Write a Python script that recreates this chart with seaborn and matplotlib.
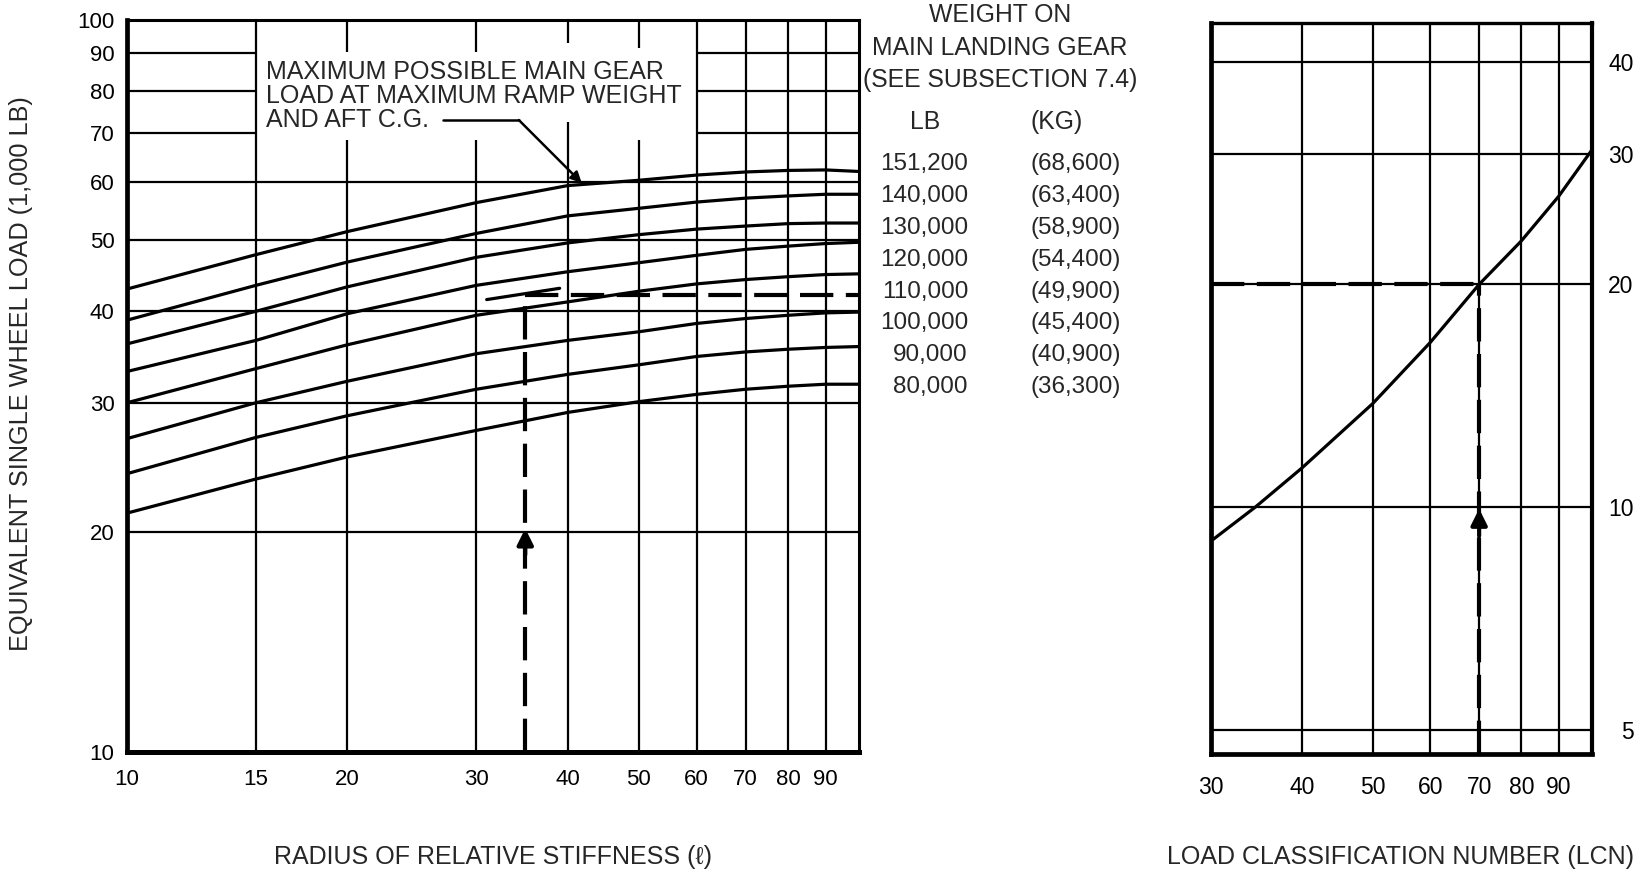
import pandas as pd
import matplotlib
matplotlib.use('Agg')
import matplotlib.pyplot as plt
from matplotlib.ticker import FixedLocator, NullFormatter, NullLocator
import seaborn as sns

# ---- data ----
# left chart: ESWL (1,000 lb) against radius of relative stiffness, one curve per gear weight
radius = [10, 15, 20, 30, 40, 50, 60, 70, 80, 90, 100]
weight_lb = ['151,200', '140,000', '130,000', '120,000', '110,000', '100,000', '90,000', '80,000']
weight_kg = ['(68,600)', '(63,400)', '(58,900)', '(54,400)', '(49,900)', '(45,400)', '(40,900)', '(36,300)']
eswl_151200 = [42.9, 47.8, 51.4, 56.3, 59.4, 60.4, 61.4, 62.0, 62.3, 62.4, 62.1]
eswl_140000 = [38.9, 43.4, 46.7, 51.1, 54.0, 55.3, 56.4, 57.1, 57.5, 57.8, 57.8]
eswl_130000 = [36.1, 40.0, 43.2, 47.4, 49.6, 50.9, 51.8, 52.3, 52.7, 52.8, 52.8]
eswl_120000 = [33.1, 36.5, 39.7, 43.4, 45.3, 46.6, 47.7, 48.6, 49.1, 49.5, 49.7]
eswl_110000 = [30.0, 33.4, 36.0, 39.5, 41.2, 42.6, 43.6, 44.2, 44.6, 44.9, 45.0]
eswl_100000 = [26.8, 30.0, 32.1, 35.0, 36.5, 37.5, 38.5, 39.1, 39.5, 39.8, 39.9]
eswl_90000 = [24.0, 26.9, 28.8, 31.3, 32.8, 33.8, 34.7, 35.2, 35.5, 35.7, 35.8]
eswl_80000 = [21.2, 23.6, 25.3, 27.5, 29.1, 30.1, 30.8, 31.3, 31.6, 31.8, 31.8]
curves = [eswl_151200, eswl_140000, eswl_130000, eswl_120000,
          eswl_110000, eswl_100000, eswl_90000, eswl_80000]

# right chart: LCN curve
lcn = [30, 34.5, 40, 50, 60, 70, 80, 90, 100]
lcn_eswl = [9.0, 10.0, 11.3, 13.8, 16.7, 20.0, 22.9, 26.3, 30.4]

# worked example (dashed reading lines)
ex_radius = 35
ex_eswl = 42.1
stub_radius = [31, 39]
stub_eswl = [41.5, 43.0]
ex_lcn = 70
ex_eswl_right = 20
# "maximum possible" leader line
leader_x = [27.0, 34.3, 41.8]
leader_y = [73.0, 73.0, 59.9]

# axis ticks / grid
x_ticks_l = [10, 15, 20, 30, 40, 50, 60, 70, 80, 90]
y_ticks_l = [10, 20, 30, 40, 50, 60, 70, 80, 90, 100]
x_ticks_r = [30, 40, 50, 60, 70, 80, 90]
y_ticks_r = [5, 10, 20, 30, 40]
# vertical grid lines broken behind the note: x -> (gap bottom, gap top)
note_gaps = {20: (68.5, 90.5), 30: (68.5, 90.5), 40: (72.5, 93), 50: (68.5, 91.5)}

sns.set_theme(style='white')
plt.rcParams['font.family'] = ['Liberation Sans', 'DejaVu Sans']

W, H = 1644, 875
fig = plt.figure(figsize=(W / 100, H / 100), dpi=100)
ax1 = fig.add_axes([127 / W, 1 - 752 / H, 732 / W, 732 / H])
ax2 = fig.add_axes([1211 / W, 1 - 754 / H, 381 / W, 731 / H])

K = 'black'
GLW = 1.6

# ---------------- left chart ----------------
df_left = pd.concat([pd.DataFrame({'radius': radius, 'eswl': c, 'weight': w})
                     for c, w in zip(curves, weight_lb)])
ax1.set_xscale('log')
ax1.set_yscale('log')
ax1.set_xlim(10, 100)
ax1.set_ylim(10, 100)

for x in [15, 60, 70, 80, 90]:
    ax1.axvline(x, color=K, lw=GLW, zorder=1)
for x, (g0, g1) in note_gaps.items():
    ax1.vlines(x, 10, g0, color=K, lw=GLW, zorder=1)
    ax1.vlines(x, g1, 100, color=K, lw=GLW, zorder=1)
for y in [20, 30, 40, 50, 60]:
    ax1.axhline(y, color=K, lw=GLW, zorder=1)
for y in [70, 80, 90]:
    ax1.hlines(y, 10, 15, color=K, lw=GLW, zorder=1)
    ax1.hlines(y, 60, 100, color=K, lw=GLW, zorder=1)

sns.lineplot(data=df_left, x='radius', y='eswl', units='weight', estimator=None,
             color=K, lw=2.3, legend=False, ax=ax1, zorder=3)
ax1.plot(stub_radius, stub_eswl, color=K, lw=2.3, zorder=3)

# worked example
ax1.plot([ex_radius, ex_radius], [10, ex_eswl], color=K, lw=3, dashes=(8, 3), zorder=4)
ax1.plot([ex_radius, 100], [ex_eswl, ex_eswl], color=K, lw=3, dashes=(8, 3), zorder=4)
ax1.annotate('', xy=(ex_radius, 20.2), xytext=(ex_radius, 18.6),
             arrowprops=dict(arrowstyle='-|>', color=K, lw=3, mutation_scale=24,
                             shrinkA=0, shrinkB=0), zorder=5)

# note with leader
note = ['MAXIMUM POSSIBLE MAIN GEAR', 'LOAD AT MAXIMUM RAMP WEIGHT', 'AND AFT C.G.']
for txt, yv in zip(note, [84.9, 78.8, 73.0]):
    ax1.text(15.5, yv, txt, fontsize=18, ha='left', va='center')
ax1.plot(leader_x[:2], leader_y[:2], color=K, lw=1.8)
ax1.annotate('', xy=(leader_x[2], leader_y[2]), xytext=(leader_x[1], leader_y[1]),
             arrowprops=dict(arrowstyle='-|>', color=K, lw=1.8, mutation_scale=16,
                             shrinkA=0, shrinkB=0))

ax1.set_xticks(x_ticks_l, [str(v) for v in x_ticks_l])
ax1.set_yticks(y_ticks_l, [str(v) for v in y_ticks_l])
ax1.xaxis.set_minor_locator(FixedLocator([25, 35, 45, 55]))
ax1.yaxis.set_minor_locator(FixedLocator([15, 25, 35, 45, 55]))
ax1.xaxis.set_minor_formatter(NullFormatter())
ax1.yaxis.set_minor_formatter(NullFormatter())
ax1.tick_params(which='major', length=0, labelsize=16, colors=K)
ax1.tick_params(axis='x', which='major', pad=12)
ax1.tick_params(axis='y', which='major', pad=9)
ax1.tick_params(which='minor', direction='in', length=7, width=2.5, color=K)
ax1.set_xlabel('')
ax1.set_ylabel('')
for side, lw in [('left', 3.4), ('bottom', 3.6), ('top', 2.2), ('right', 2.2)]:
    ax1.spines[side].set_color(K)
    ax1.spines[side].set_linewidth(lw)

# ---------------- right chart ----------------
df_right = pd.DataFrame({'lcn': lcn, 'eswl': lcn_eswl})
ax2.set_xscale('log')
ax2.set_yscale('log')
ax2.set_xlim(30, 100)
ax2.set_ylim(4.64, 45.1)
for x in x_ticks_r[1:]:
    ax2.axvline(x, color=K, lw=GLW, zorder=1)
for y in y_ticks_r:
    ax2.axhline(y, color=K, lw=GLW, zorder=1)
sns.lineplot(data=df_right, x='lcn', y='eswl', color=K, lw=2.3, ax=ax2, zorder=3)

ax2.plot([30, ex_lcn], [ex_eswl_right, ex_eswl_right], color=K, lw=3, dashes=(8, 3), zorder=4)
ax2.plot([ex_lcn, ex_lcn], [4.64, ex_eswl_right], color=K, lw=3, dashes=(8, 3), zorder=4)
ax2.annotate('', xy=(ex_lcn, 9.95), xytext=(ex_lcn, 9.15),
             arrowprops=dict(arrowstyle='-|>', color=K, lw=3, mutation_scale=24,
                             shrinkA=0, shrinkB=0), zorder=5)

ax2.set_xticks(x_ticks_r, [str(v) for v in x_ticks_r])
ax2.xaxis.set_minor_locator(FixedLocator([35, 45, 55]))
ax2.xaxis.set_minor_formatter(NullFormatter())
ax2.yaxis.tick_right()
ax2.set_yticks(y_ticks_r, [str(v) for v in y_ticks_r])
ax2.yaxis.set_minor_locator(NullLocator())
for lbl in ax2.get_yticklabels():
    lbl.set_horizontalalignment('right')
ax2.tick_params(which='major', length=0, labelsize=16.5, colors=K)
ax2.tick_params(axis='x', which='major', pad=16)
ax2.tick_params(axis='y', which='major', pad=30)
ax2.tick_params(which='minor', direction='in', length=7, width=2.5, color=K)
ax2.set_xlabel('')
ax2.set_ylabel('')
for side, lw in [('left', 3.4), ('bottom', 3.4), ('top', 2.4), ('right', 3.0)]:
    ax2.spines[side].set_color(K)
    ax2.spines[side].set_linewidth(lw)

# ---------------- labels and weight table ----------------
def fx(px):
    return px / W

def fy(py):
    return 1 - py / H

fig.text(fx(21), fy(374), 'EQUIVALENT SINGLE WHEEL LOAD (1,000 LB)', rotation=90,
         fontsize=18.2, ha='center', va='center')
fig.text(fx(493), fy(857), 'RADIUS OF RELATIVE STIFFNESS (\u2113)', fontsize=18,
         ha='center', va='center')
fig.text(fx(1400), fy(857), 'LOAD CLASSIFICATION NUMBER (LCN)', fontsize=18,
         ha='center', va='center')

for txt, py in zip(['WEIGHT ON', 'MAIN LANDING GEAR', '(SEE SUBSECTION 7.4)'], [15, 48, 80]):
    fig.text(fx(1000), fy(py), txt, fontsize=17.8, ha='center', va='center')
fig.text(fx(925), fy(122), 'LB', fontsize=17.8, ha='center', va='center')
fig.text(fx(1057), fy(122), '(KG)', fontsize=17.8, ha='center', va='center')
for i, (lb, kg) in enumerate(zip(weight_lb, weight_kg)):
    py = 164 + 31.9 * i
    fig.text(fx(968), fy(py), lb, fontsize=17.5, ha='right', va='center')
    fig.text(fx(1030), fy(py), kg, fontsize=17.5, ha='left', va='center')

fig.savefig('out.png', dpi=100)
